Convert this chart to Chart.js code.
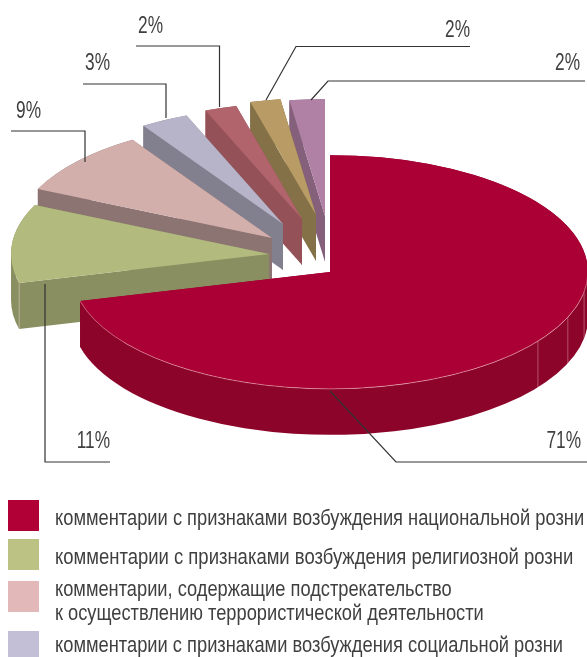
<!DOCTYPE html>
<html lang="ru">
<head>
<meta charset="utf-8">
<style>
html,body{margin:0;padding:0;background:#fff;width:587px;height:657px;overflow:hidden}
#wrap{position:relative;width:587px;height:657px;overflow:hidden}
canvas{position:absolute;left:0;top:0}
.sw{position:absolute;left:8px;width:31px;height:31px}
.tx{position:absolute;left:55px;white-space:nowrap;font-family:"Liberation Sans",sans-serif;font-size:22px;line-height:23.5px;color:#3f3f3f;transform-origin:0 0}
</style>
</head>
<body>
<div id="wrap"><canvas id="c" width="587" height="657"></canvas></div>
<script src="https://cdn.jsdelivr.net/npm/chart.js@4"></script>
<script>
const values = [71, 10.9, 9, 3, 2, 1.9, 2.2];
const valueLabels = ["71%", "11%", "9%", "3%", "2%", "2%", "2%"];
const categories = [
  "комментарии с признаками возбуждения национальной розни",
  "комментарии с признаками возбуждения религиозной розни",
  "комментарии, содержащие подстрекательство\nк осуществлению террористической деятельности",
  "комментарии с признаками возбуждения социальной розни",
  "", "", ""
];
const topColors  = ["#AB0035", "#B2BA7E", "#D3AFAC", "#B7B3C8", "#B1646B", "#B89B65", "#B080A5"];
const wallColors = ["#8C0429", "#898F61", "#8C7473", "#82808F", "#945258", "#857148", "#85607B"];
const swatchColors = ["#B00035", "#BBC283", "#E2B9B8", "#C2BFD6"];

/* presentation: where each exploded wedge sits and how the pie is tilted */
const apex = [[330,272],[269,254],[272,238],[283,224],[302,219],[316,215],[325,216]];
const TILT = 0.453, DEPTH = 46;
const redSeams = [100, 112.8, 126.3];
const leaders = [
  [[330,391],[396,462],[587,462]],
  [[45,284],[45,462],[110,462]],
  [[85,162],[85,131],[11,131]],
  [[166,118],[166,84],[83,84]],
  [[219.5,107],[219.5,46],[136,46]],
  [[266,100],[296,46.5],[470,46.5]],
  [[311,100],[328,81],[585,81]]
];
const labelPos = [[581,448],[110,448],[41,118],[110,70],[163,33],[470,37],[580,70]];
const labelStretch = 0.72;
const swatchTops = [500, 539, 581, 631];
const textTops = [506, 545, 577, 633];
const textWidths = [529, 518, 429, 508];

function wall(ctx, a, i){
  const [ax,ay] = apex[i], r = a.outerRadius, ry = r*TILT;
  const s = a.startAngle, e = a.endAngle;
  const pt = (t)=>[ax + r*Math.cos(t), ay + ry*Math.sin(t)];
  const cuts = [s];
  for(let k = Math.ceil(s/Math.PI); k*Math.PI < e; k++){ if(k*Math.PI > s) cuts.push(k*Math.PI); }
  cuts.push(e);
  for(let c = 0; c < cuts.length-1; c++){
    ctx.beginPath();
    ctx.ellipse(ax,ay,r,ry,0,cuts[c],cuts[c+1]);
    ctx.ellipse(ax,ay+DEPTH,r,ry,0,cuts[c+1],cuts[c],true);
    ctx.closePath();
    ctx.fill();
  }
  [s,e].forEach(t=>{
    const p = pt(t);
    ctx.beginPath();
    ctx.moveTo(ax,ay); ctx.lineTo(p[0],p[1]); ctx.lineTo(p[0],p[1]+DEPTH); ctx.lineTo(ax,ay+DEPTH);
    ctx.closePath(); ctx.fill();
  });
}
const tiltPie = {
  id:'tiltPie',
  beforeDatasetsDraw(chart){
    const ctx = chart.ctx, arcs = chart.getDatasetMeta(0).data;
    for(let i = arcs.length-1; i >= 0; i--){
      const a = arcs[i];
      ctx.fillStyle = wallColors[i];
      wall(ctx,a,i);
      const [ax,ay] = apex[i], r = a.outerRadius;
      ctx.lineWidth = 0.8;
      ctx.strokeStyle = 'rgba(255,225,225,.45)';
      if(i === 1){
        const x = ax + r*Math.cos(a.startAngle), y = ay + r*TILT*Math.sin(a.startAngle);
        ctx.beginPath(); ctx.moveTo(x,y); ctx.lineTo(x,y+DEPTH); ctx.stroke();
      }
      if(i === 0){
        redSeams.forEach(deg=>{
          const t = (deg-90)*Math.PI/180;
          const x = ax + r*Math.cos(t), y = ay + r*TILT*Math.sin(t);
          ctx.beginPath(); ctx.moveTo(x,y); ctx.lineTo(x,y+DEPTH); ctx.stroke();
        });
      }
      ctx.save();
      ctx.translate(ax, ay); ctx.scale(1,TILT); ctx.translate(-a.x,-a.y);
      a.draw(ctx);
      ctx.restore();
      if(i === 0){
        ctx.beginPath(); ctx.ellipse(ax,ay,r,r*TILT,0,0,a.endAngle);
        ctx.strokeStyle='rgba(255,200,205,.6)'; ctx.lineWidth=0.8; ctx.stroke();
      }
    }
    return false;
  },
  afterDraw(chart){
    const ctx = chart.ctx;
    ctx.save();
    ctx.strokeStyle='#333'; ctx.lineWidth=1.2;
    leaders.forEach(p=>{
      ctx.beginPath(); ctx.moveTo(p[0][0],p[0][1]);
      p.slice(1).forEach(q=>ctx.lineTo(q[0],q[1])); ctx.stroke();
    });
    ctx.fillStyle='#3f3f3f';
    ctx.font='24px "Liberation Sans",sans-serif';
    ctx.textAlign='right'; ctx.textBaseline='alphabetic';
    valueLabels.forEach((t,i)=>{
      ctx.save(); ctx.translate(labelPos[i][0],labelPos[i][1]); ctx.scale(labelStretch,1);
      ctx.fillText(t,0,0); ctx.restore();
    });
    ctx.restore();
  }
};
new Chart(document.getElementById('c'),{
  type:'pie',
  data:{labels:categories,datasets:[{data:values,backgroundColor:topColors,borderWidth:0}]},
  options:{
    responsive:false,animation:false,radius:258,
    plugins:{legend:{display:false},tooltip:{enabled:false}}
  },
  plugins:[tiltPie]
});
const wrap=document.getElementById('wrap');
swatchColors.forEach((c,i)=>{
  const s=document.createElement('div');s.className='sw';s.style.top=swatchTops[i]+'px';s.style.background=c;wrap.appendChild(s);
  const t=document.createElement('div');t.className='tx';t.style.top=textTops[i]+'px';
  t.innerHTML=categories[i].replace('\n','<br>');wrap.appendChild(t);
  t.style.transform='scaleX('+(textWidths[i]/t.offsetWidth)+')';
});
</script>
</body>
</html>
